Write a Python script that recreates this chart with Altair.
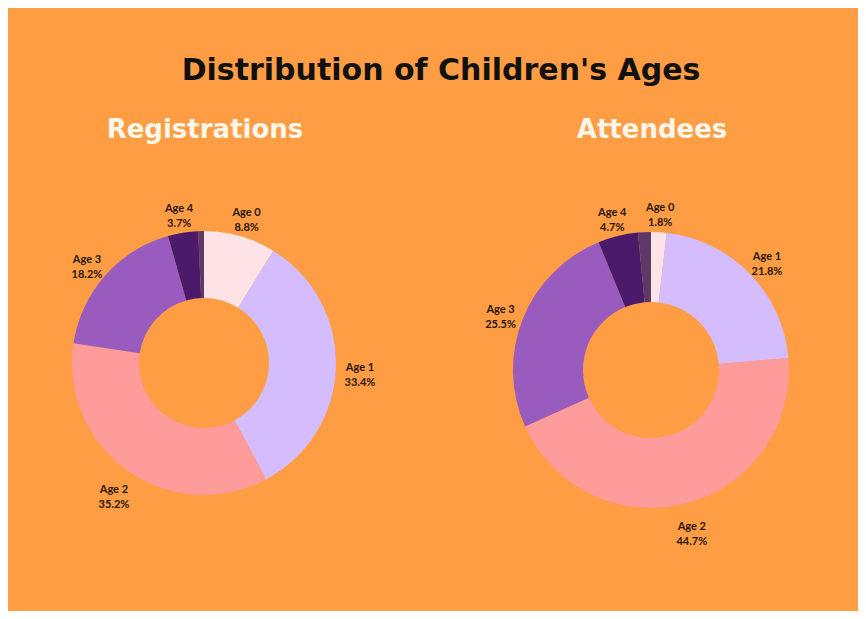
import altair as alt
import pandas as pd

ages = ["Age 0", "Age 1", "Age 2", "Age 3", "Age 4", "Age 5"]
registrations = [8.8, 33.4, 35.2, 18.2, 3.7, 0.7]
attendees = [1.8, 21.8, 44.7, 25.5, 4.7, 1.5]
colors = ["#fde3e5", "#d5bcfd", "#fe9b9b", "#9a5bbf", "#4c1a6b", "#5e3866"]
main_title = "Distribution of Children's Ages"
panel_titles = ["Registrations", "Attendees"]

BG = "#fe9d43"
FONT = "Lato"
TITLE_FONT = "DejaVu Sans"


def frame(vals):
    return pd.DataFrame({
        "age": ages,
        "value": vals,
        "order": list(range(len(ages))),
        "label": [f"{a}\n{v}%" if a != "Age 5" else "" for a, v in zip(ages, vals)],
    })


color = alt.Color("age:N", scale=alt.Scale(domain=ages, range=colors), legend=None)


def donut(df, cx, cy, r_out, r_in, r_lab):
    base = alt.Chart(df).encode(
        theta=alt.Theta("value:Q", stack=True),
        order=alt.Order("order:Q"),
        x=alt.value(cx),
        y=alt.value(cy),
    )
    arc = base.mark_arc(radius=r_out, radius2=r_in).encode(color=color)
    txt = base.mark_text(
        radius=r_lab, font=FONT, fontSize=11, fontWeight="bold", color="#2a160e",
        lineBreak="\n", lineHeight=15, align="center", baseline="middle",
    ).encode(text="label:N")
    return [arc, txt]


def label(text, x, y, size, col):
    return alt.Chart(pd.DataFrame({"t": [text]})).mark_text(
        font=TITLE_FONT, fontSize=size, fontWeight="bold", color=col,
        align="center", baseline="alphabetic",
    ).encode(text="t:N", x=alt.value(x), y=alt.value(y))


layers = []
layers += donut(frame(registrations), 196, 355, 132, 65, 156)
layers += donut(frame(attendees), 643, 362, 138, 68, 162)
layers.append(label(main_title, 433, 72, 30, "#111111"))
layers.append(label(panel_titles[0], 197, 130, 26, "#fff6ea"))
layers.append(label(panel_titles[1], 644, 130, 26, "#fff6ea"))

chart = alt.layer(*layers).properties(
    width=850, height=603, background=BG, padding=0, autosize="none"
).configure_view(stroke=None)

chart.save("out.html", embed_options={"renderer": "svg", "actions": False})
